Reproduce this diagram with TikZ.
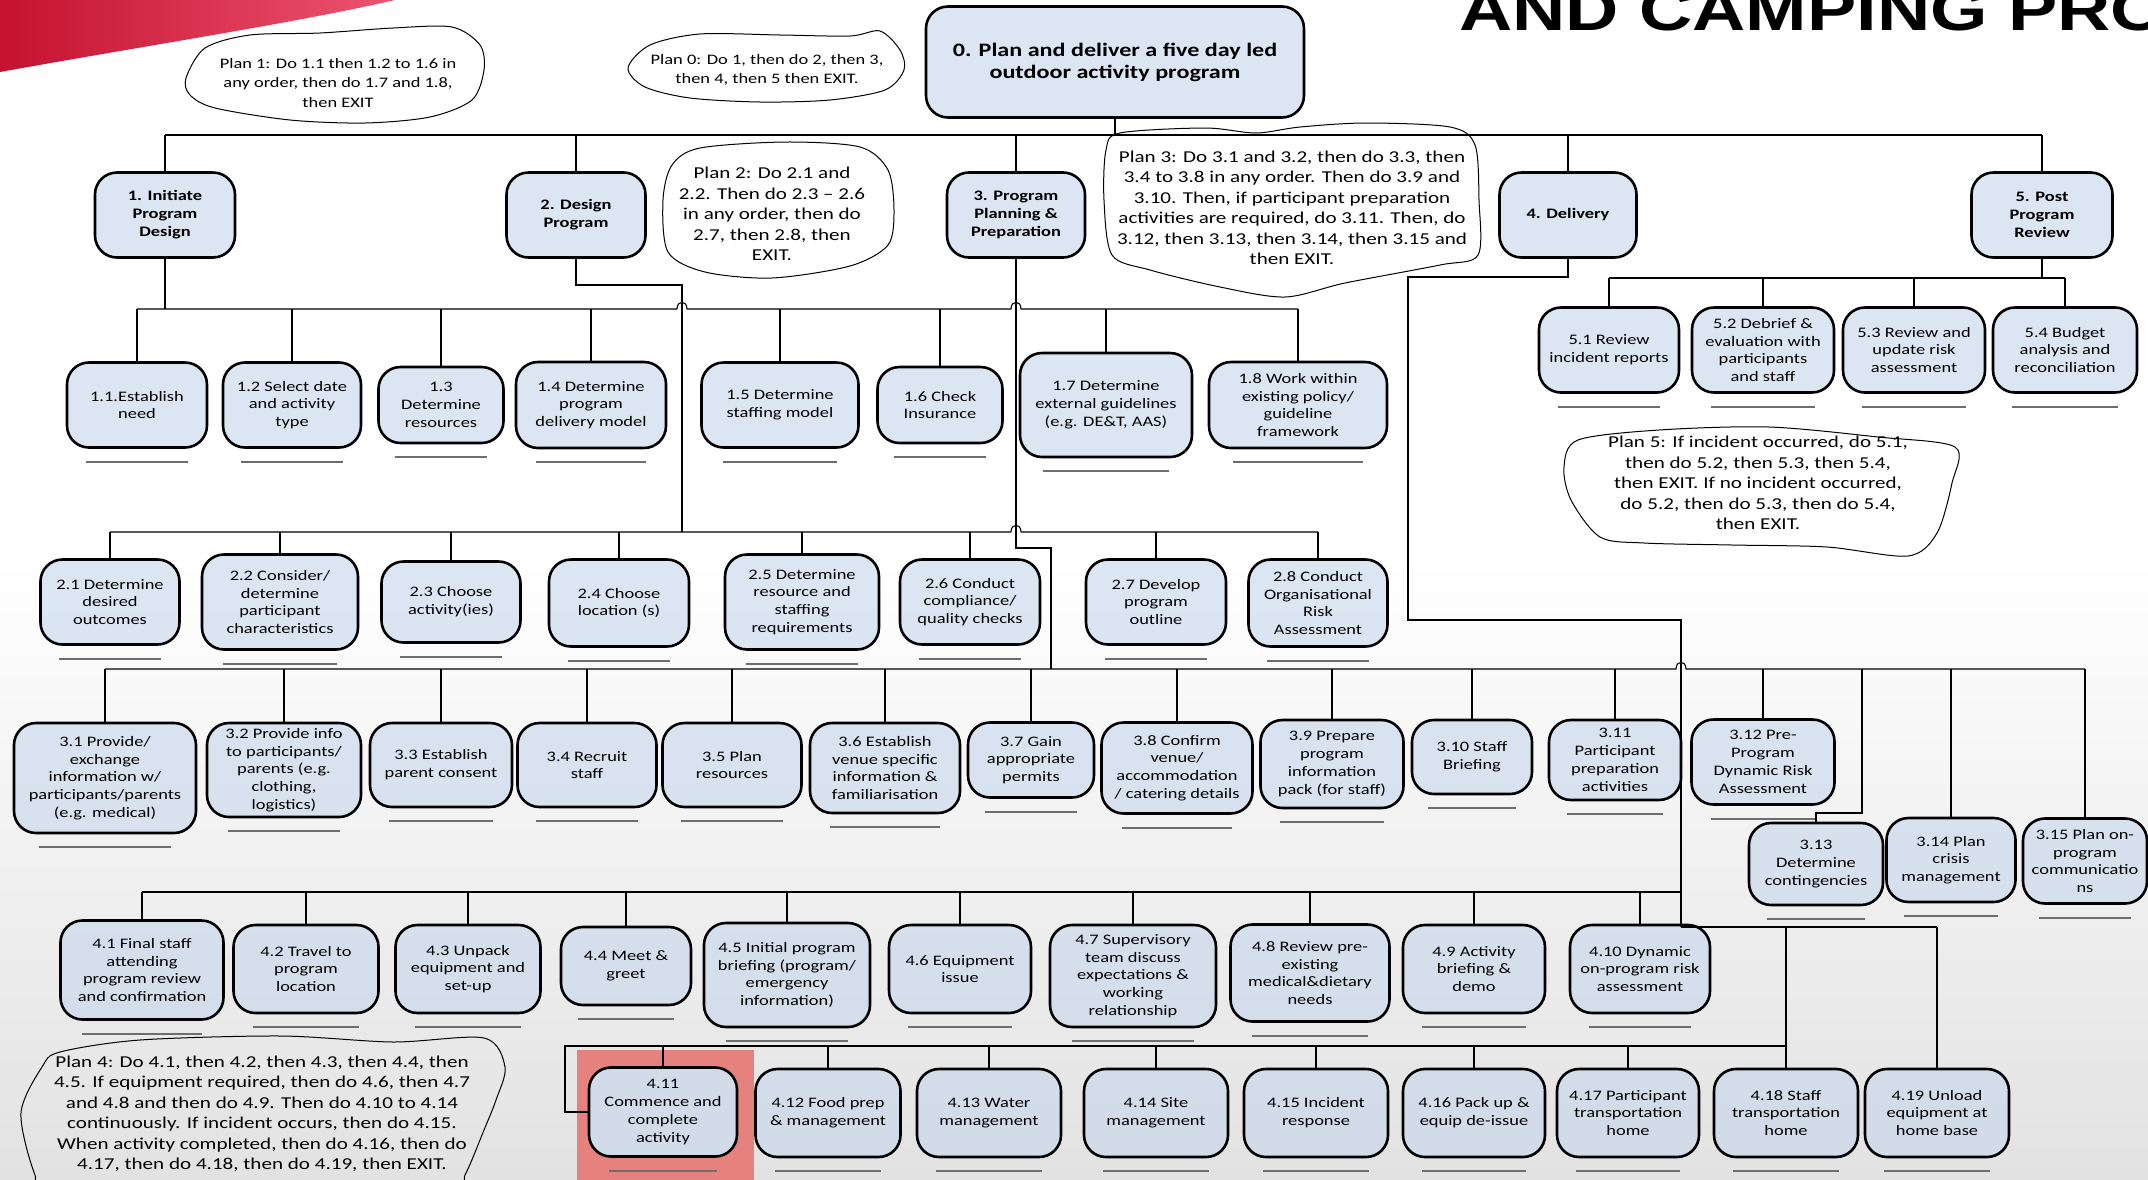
\documentclass[tikz,border=0pt]{standalone}
\usepackage{fontspec}
\setmainfont{Carlito}[FakeStretch=1.27]
\newfontfamily\headfont{Liberation Sans}[FakeStretch=1.25]
\usetikzlibrary{calc}

\definecolor{boxblue}{RGB}{199,216,236}
\definecolor{boxsolid}{RGB}{209,220,232}
\definecolor{bggray}{RGB}{226,226,226}
\definecolor{ulgray}{RGB}{110,110,110}
\definecolor{hlred}{RGB}{230,130,125}
\definecolor{swdark}{RGB}{196,18,48}
\definecolor{swlight}{RGB}{236,84,112}

\newcommand\bxf{\fontsize{14.5}{17.8}\selectfont}
\newcommand\hdf{\fontsize{14.5}{18}\selectfont\bfseries}
\newcommand\zrf{\fontsize{19}{22}\selectfont\bfseries}
\newcommand\plf{\fontsize{16.6}{20.5}\selectfont}
\newcommand\pls{\fontsize{14.5}{19.5}\selectfont}

\tikzset{
  box/.style={draw=black, line width=2.6pt, rounded corners=22pt, fill=boxblue,
    fill opacity=0.62, text opacity=1, align=center, inner sep=2pt, font=\bxf},
  headbox/.style={box, font=\hdf},
  conn/.style={draw=black, line width=1.1pt},
  uline/.style={draw=ulgray, line width=2.2pt},
  cloud/.style={draw=black, line width=1pt},
  plantext/.style={align=center, inner sep=0pt, font=\plf},
}

\begin{document}
\begin{tikzpicture}[x=1pt,y=-1pt]
% page and background
\fill[white] (0,0) rectangle (2148,1179);
\shade[top color=white, bottom color=bggray] (0,560) rectangle (2148,1179);
\useasboundingbox (0,0) rectangle (2148,1179);
\clip (0,0) rectangle (2148,1179);

% decorative swoosh and heading
\shade[left color=swdark, right color=swlight] (0,0) -- (395,0) .. controls (300,22) and (150,45) .. (0,72) -- cycle;
\node[anchor=base west, inner sep=0pt, font={\headfont\bfseries\fontsize{59}{64}\selectfont}] (title) at (1459,30) {AND CAMPING PRO};

% highlight behind 4.11
\fill[hlred] (577,1050) rectangle (754,1185);

% bus levels
\coordinate (bus0) at (0,135);
\coordinate (bus1) at (0,309);
\coordinate (bus2) at (0,532);
\coordinate (bus3) at (0,669);
\coordinate (bus5) at (0,278);
\coordinate (bus4) at (0,892);
\coordinate (bus4c) at (0,927);
\coordinate (bus4b) at (0,1046);

% ---------- boxes ----------
\node[box, font=\zrf, minimum width=378, minimum height=111] (b0) at (1115,62) {0. Plan and deliver a five day led\\outdoor activity program};

\node[headbox, minimum width=140, minimum height=85] (b1) at (165,215) {1. Initiate\\Program\\Design};
\node[headbox, minimum width=139, minimum height=85] (b2) at (576,215) {2. Design\\Program};
\node[headbox, minimum width=138, minimum height=85] (b3) at (1016,215) {3. Program\\Planning \&\\Preparation};
\node[headbox, minimum width=137, minimum height=85] (b4) at (1568,215) {4. Delivery};
\node[headbox, minimum width=141, minimum height=85] (b5) at (2042,215) {5. Post\\Program\\Review};

\node[box, minimum width=140, minimum height=85] (n11) at (137,405) {1.1.Establish\\need};
\node[box, minimum width=138, minimum height=85] (n12) at (292,405) {1.2 Select date\\and activity\\type};
\node[box, minimum width=125, minimum height=76] (n13) at (441,405) {1.3\\Determine\\resources};
\node[box, minimum width=150, minimum height=86] (n14) at (591,405) {1.4 Determine\\program\\delivery model};
\node[box, minimum width=157, minimum height=85] (n15) at (780,405) {1.5 Determine\\staffing model};
\node[box, minimum width=125, minimum height=76] (n16) at (940,405) {1.6 Check\\Insurance};
\node[box, minimum width=172, minimum height=104] (n17) at (1106,405) {1.7 Determine\\external guidelines\\(e.g. DE\&T, AAS)};
\node[box, minimum width=178, minimum height=86] (n18) at (1298,405) {1.8 Work within\\existing policy/\\guideline\\framework};

\node[box, minimum width=139, minimum height=85] (n21) at (110,602) {2.1 Determine\\desired\\outcomes};
\node[box, minimum width=156, minimum height=95] (n22) at (280,602) {2.2 Consider/\\determine\\participant\\characteristics};
\node[box, minimum width=139, minimum height=81] (n23) at (451,602) {2.3 Choose\\activity(ies)};
\node[box, minimum width=140, minimum height=87] (n24) at (619,603) {2.4 Choose\\location (s)};
\node[box, minimum width=154, minimum height=95] (n25) at (802,602) {2.5 Determine\\resource and\\staffing\\requirements};
\node[box, minimum width=140, minimum height=85] (n26) at (970,602) {2.6 Conduct\\compliance/\\quality checks};
\node[box, minimum width=140, minimum height=85] (n27) at (1156,602) {2.7 Develop\\program\\outline};
\node[box, minimum width=139, minimum height=87] (n28) at (1318,603) {2.8 Conduct\\Organisational\\Risk\\Assessment};

\node[box, minimum width=182, minimum height=110] (n31) at (105,778) {3.1 Provide/\\exchange\\information w/\\participants/parents\\(e.g. medical)};
\node[box, minimum width=154, minimum height=94] (n32) at (284,770) {3.2 Provide info\\to participants/\\parents (e.g.\\clothing,\\logistics)};
\node[box, minimum width=142, minimum height=84] (n33) at (441,765) {3.3 Establish\\parent consent};
\node[box, minimum width=139, minimum height=84] (n34) at (587,765) {3.4 Recruit\\staff};
\node[box, minimum width=139, minimum height=84] (n35) at (732,765) {3.5 Plan\\resources};
\node[box, minimum width=150, minimum height=90] (n36) at (885,768) {3.6 Establish\\venue specific\\information \&\\familiarisation};
\node[box, minimum width=126, minimum height=75] (n37) at (1031,760) {3.7 Gain\\appropriate\\permits};
\node[box, minimum width=151, minimum height=91] (n38) at (1177,768) {3.8 Confirm\\venue/\\accommodation\\/ catering details};
\node[box, minimum width=143, minimum height=88] (n39) at (1332,764) {3.9 Prepare\\program\\information\\pack (for staff)};
\node[box, minimum width=120, minimum height=74] (n310) at (1472,757) {3.10 Staff\\Briefing};
\node[box, minimum width=132, minimum height=80] (n311) at (1615,760) {3.11\\Participant\\preparation\\activities};
\node[box, minimum width=143, minimum height=85] (n312) at (1763,762) {3.12 Pre-\\Program\\Dynamic Risk\\Assessment};
\node[box, minimum width=134, minimum height=82] (n313) at (1816,864) {3.13\\Determine\\contingencies};
\node[box, minimum width=129, minimum height=84] (n314) at (1951,860) {3.14 Plan\\crisis\\management};
\node[box, minimum width=124, minimum height=85] (n315) at (2085,861) {3.15 Plan on-\\program\\communicatio\\ns};

\node[box, minimum width=163, minimum height=99] (n41) at (142,970) {4.1 Final staff\\attending\\program review\\and confirmation};
\node[box, minimum width=145, minimum height=88] (n42) at (306,969) {4.2 Travel to\\program\\location};
\node[box, minimum width=145, minimum height=88] (n43) at (468,969) {4.3 Unpack\\equipment and\\set-up};
\node[box, minimum width=130, minimum height=78] (n44) at (626,966) {4.4 Meet \&\\greet};
\node[box, minimum width=166, minimum height=104] (n45) at (787,975) {4.5 Initial program\\briefing (program/\\emergency\\information)};
\node[box, minimum width=142, minimum height=88] (n46) at (960,969) {4.6 Equipment\\issue};
\node[box, minimum width=166, minimum height=102] (n47) at (1133,976) {4.7 Supervisory\\team discuss\\expectations \&\\working\\relationship};
\node[box, minimum width=159, minimum height=97] (n48) at (1310,973) {4.8 Review pre-\\existing\\medical\&dietary\\needs};
\node[box, minimum width=142, minimum height=88] (n49) at (1474,969) {4.9 Activity\\briefing \&\\demo};
\node[box, minimum width=140, minimum height=88] (n410) at (1640,969) {4.10 Dynamic\\on-program risk\\assessment};

\node[box, fill=boxsolid, fill opacity=1, minimum width=148, minimum height=89] (n411) at (663,1112) {4.11\\Commence and\\complete\\activity};
\node[box, minimum width=145, minimum height=88] (n412) at (828,1113) {4.12 Food prep\\\& management};
\node[box, minimum width=144, minimum height=88] (n413) at (989,1113) {4.13 Water\\management};
\node[box, minimum width=144, minimum height=88] (n414) at (1156,1113) {4.14 Site\\management};
\node[box, minimum width=144, minimum height=88] (n415) at (1316,1113) {4.15 Incident\\response};
\node[box, minimum width=142, minimum height=88] (n416) at (1474,1113) {4.16 Pack up \&\\equip de-issue};
\node[box, minimum width=142, minimum height=88] (n417) at (1628,1113) {4.17 Participant\\transportation\\home};
\node[box, minimum width=144, minimum height=88] (n418) at (1786,1113) {4.18 Staff\\transportation\\home};
\node[box, minimum width=144, minimum height=88] (n419) at (1937,1113) {4.19 Unload\\equipment at\\home base};

\node[box, minimum width=140, minimum height=85] (n51) at (1609,350) {5.1 Review\\incident reports};
\node[box, minimum width=142, minimum height=85] (n52) at (1763,350) {5.2 Debrief \&\\evaluation with\\participants\\and staff};
\node[box, minimum width=142, minimum height=85] (n53) at (1914,350) {5.3 Review and\\update risk\\assessment};
\node[box, minimum width=144, minimum height=85] (n54) at (2065,350) {5.4 Budget\\analysis and\\reconciliation};

% ---------- connectors ----------
% level 0 -> level 1
\draw[conn] (b0.south) -- (b0.south |- bus0);
\draw[conn] (b1.north |- bus0) -- (b5.north |- bus0);
\foreach \n in {b1,b2,b3,b4,b5} \draw[conn] (\n.north |- bus0) -- (\n.north);

% plan 1 children
\draw[conn] (b1.south) -- (b1.south |- bus1);
\draw[conn] (n11.north |- bus1) -- (677,309) .. controls (677,300) and (687,300) .. (687,309)
  -- (1011,309) .. controls (1011,300) and (1021,300) .. (1021,309) -- (n18.north |- bus1);
\foreach \n in {n11,n12,n13,n14,n15,n16,n17,n18} \draw[conn] (\n.north |- bus1) -- (\n.north);

% plan 2 children
\coordinate (j2) at (682,285);
\draw[conn] (b2.south) |- (j2) -- (j2 |- bus2);
\draw[conn] (n21.north |- bus2) -- (1011,532) .. controls (1011,523) and (1021,523) .. (1021,532) -- (n28.north |- bus2);
\foreach \n in {n21,n22,n23,n24,n25,n26,n27,n28} \draw[conn] (\n.north |- bus2) -- (\n.north);

% plan 3 children
\coordinate (j3) at (1051,548);
\draw[conn] (b3.south) |- (j3) -- (j3 |- bus3);
\draw[conn] (n31.north |- bus3) -- (1676,669) .. controls (1676,660) and (1686,660) .. (1686,669) -- (n315.north |- bus3);
\foreach \n in {n31,n32,n33,n34,n35,n36,n37,n38,n39,n310,n311,n312,n314,n315} \draw[conn] (\n.north |- bus3) -- (\n.north);
\coordinate (t313) at (1862,813);
\draw[conn] (t313 |- bus3) -- (t313) -| (n313.north);

% plan 4 children
\coordinate (k4) at (1408,277);
\coordinate (m4) at (1681,620);
\draw[conn] (b4.south) |- (k4) |- (m4) -- (m4 |- bus4c);
\draw[conn] (n41.north |- bus4) -- (m4 |- bus4);
\foreach \n in {n41,n42,n43,n44,n45,n46,n47,n48,n49,n410} \draw[conn] (\n.north |- bus4) -- (\n.north);
\draw[conn] (m4 |- bus4c) -- (n419.north |- bus4c);
\draw[conn] (n418.north |- bus4c) -- (n418.north);
\draw[conn] (n419.north |- bus4c) -- (n419.north);
\coordinate (l4) at (565,1046);
\draw[conn] (n418.north |- bus4b) -- (l4) |- (n411.west);
\foreach \n in {n411,n412,n413,n414,n415,n416,n417} \draw[conn] (\n.north |- bus4b) -- (\n.north);

% plan 5 children
\draw[conn] (b5.south) -- (b5.south |- bus5);
\draw[conn] (n51.north |- bus5) -- (n54.north |- bus5);
\foreach \n in {n51,n52,n53,n54} \draw[conn] (\n.north |- bus5) -- (\n.north);

% underlines beneath the task boxes
\foreach \n in {n11,n12,n13,n14,n15,n16,n17,n18,n21,n22,n23,n24,n25,n26,n27,n28,
  n31,n32,n33,n34,n35,n36,n37,n38,n39,n310,n311,n312,n313,n314,n315,
  n41,n42,n43,n44,n45,n46,n47,n48,n49,n410,n411,n412,n413,n414,n415,n416,n417,n418,n419,
  n51,n52,n53,n54}
  \draw[uline] ($(\n.south west)!0.14!(\n.south east)+(0,13)$) -- ($(\n.south west)!0.86!(\n.south east)+(0,13)$);

% ---------- plans ----------
\draw[cloud] plot[smooth cycle] coordinates {(628,68) (650,45) (700,34) (780,35) (850,36) (880,31) (900,50) (904,70) (885,90) (830,100) (760,102) (690,98) (645,87)};
\node[plantext, font=\pls] (p0) at (767,70) {Plan 0: Do 1, then do 2, then 3,\\then 4, then 5 then EXIT.};

\draw[cloud] plot[smooth cycle] coordinates {(186,78) (205,48) (250,35) (320,33) (393,28) (452,27) (480,45) (484,70) (472,100) (430,117) (365,123) (290,120) (215,108) (190,95)};
\node[plantext, font=\pls] (p1) at (338,83) {Plan 1: Do 1.1 then 1.2 to 1.6 in\\any order, then do 1.7 and 1.8,\\then EXIT};

\draw[cloud] plot[smooth cycle] coordinates {(663,200) (672,165) (700,148) (786,142) (860,147) (888,170) (894,210) (888,245) (850,266) (772,278) (705,272) (668,252)};
\node[plantext] (p2) at (772,214) {Plan 2: Do 2.1 and\\2.2. Then do 2.3 -- 2.6\\in any order, then do\\2.7, then 2.8, then\\EXIT.};

\draw[cloud] plot[smooth cycle] coordinates {(1106,150) (1120,133) (1205,128) (1256,133) (1300,127) (1366,123) (1450,127) (1475,145) (1479,200) (1478,255) (1440,265) (1345,283) (1285,297) (1220,287) (1150,270) (1112,255) (1104,200)};
\node[plantext] (p3) at (1292,208) {Plan 3: Do 3.1 and 3.2, then do 3.3, then\\3.4 to 3.8 in any order. Then do 3.9 and\\3.10. Then, if participant preparation\\activities are required, do 3.11. Then, do\\3.12, then 3.13, then 3.14, then 3.15 and\\then EXIT.};

\draw[cloud] plot[smooth cycle] coordinates {(1578,440) (1659,430) (1769,427) (1878,437) (1955,447) (1952,483) (1937,533) (1908,556) (1827,547) (1732,545) (1644,543) (1600,537) (1571,500) (1564,467)};
\node[plantext] (p5) at (1758,483) {Plan 5: If incident occurred, do 5.1,\\then do 5.2, then 5.3, then 5.4,\\then EXIT. If no incident occurred,\\do 5.2, then do 5.3, then do 5.4,\\then EXIT.};

\draw[cloud] plot[smooth cycle] coordinates {(42,1067) (60,1052) (140,1040) (281,1036) (393,1042) (484,1038) (505,1067) (496,1100) (484,1130) (465,1175) (440,1215) (60,1215) (35,1175) (21,1113)};
\node[plantext] (p4) at (262,1114) {Plan 4: Do 4.1, then 4.2, then 4.3, then 4.4, then\\4.5. If equipment required, then do 4.6, then 4.7\\and 4.8 and then do 4.9. Then do 4.10 to 4.14\\continuously. If incident occurs, then do 4.15.\\When activity completed, then do 4.16, then do\\4.17, then do 4.18, then do 4.19, then EXIT.};
\end{tikzpicture}
\end{document}
